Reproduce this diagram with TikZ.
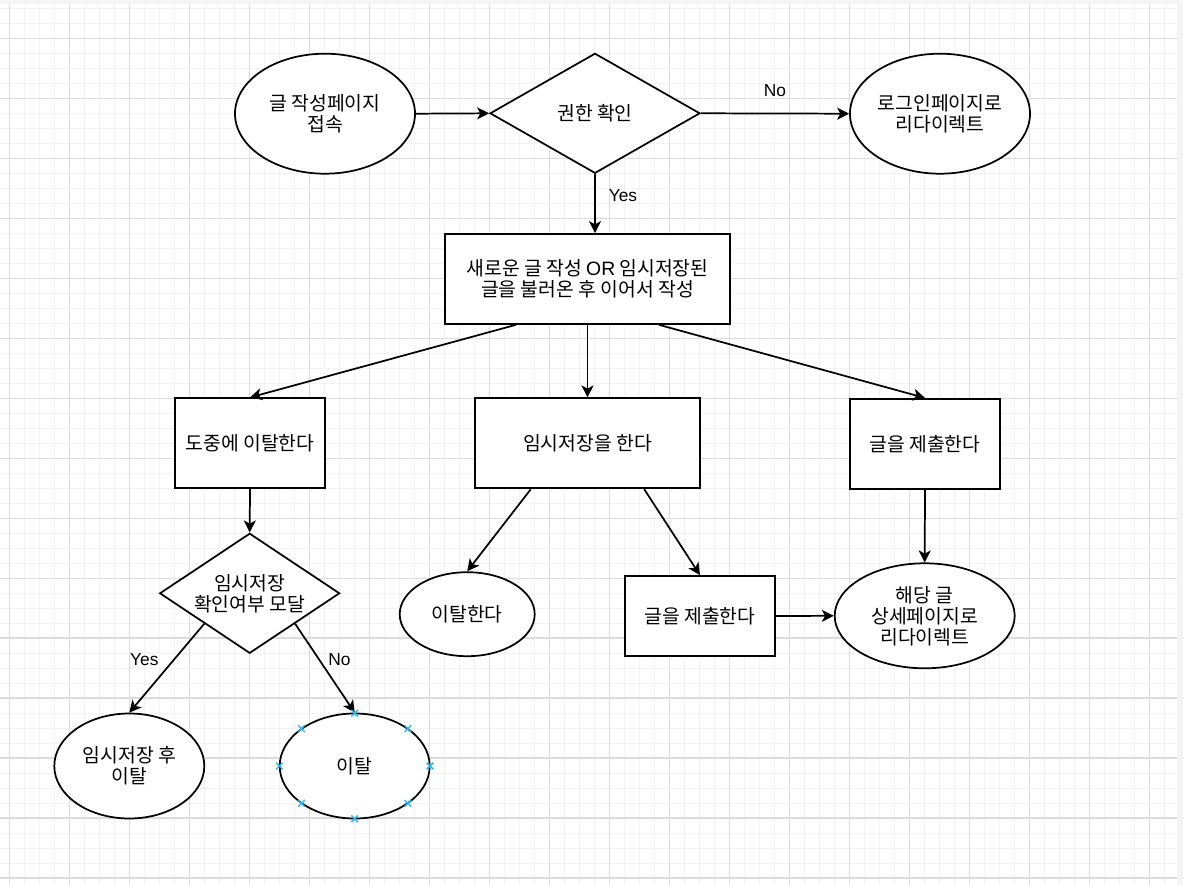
\documentclass[tikz,border=0pt]{standalone}
\usepackage{fontspec}
\setmainfont{Liberation Sans}
\newfontfamily\kr{Noto Sans CJK KR}
\usetikzlibrary{shapes.geometric,arrows.meta,calc}
\definecolor{gmaj}{HTML}{DCDCDC}
\definecolor{gmin}{HTML}{F2F2F2}
\definecolor{strip}{HTML}{F4F4F4}
\definecolor{selblue}{HTML}{29B6F2}
\begin{document}
\begin{tikzpicture}[x=0.75pt,y=-0.75pt,
  shapebase/.style={draw=black, line width=1.3pt, fill=white, inner sep=0pt, align=center,
    font=\kr\fontsize{14.5}{15.75}\selectfont},
  oval/.style={shapebase, ellipse, inner sep=-14pt},
  boxnode/.style={shapebase, rectangle},
  decision/.style={shapebase, diamond, inner sep=-16pt},
  conn/.style={draw=black, line width=1.3pt, -{Stealth[length=9pt,width=9pt,inset=2.4pt]}},
  lbl/.style={font=\fontsize{13}{15}\selectfont, inner sep=0pt},
  selmark/.style={draw=selblue, line width=1.1pt},
  minorgrid/.style={draw=gmin, line width=0.75pt},
  majorgrid/.style={draw=gmaj, line width=0.75pt},
]
\useasboundingbox (0,0) rectangle (1183,885);
% background and grid
\fill[white] (0,0) rectangle (1183,885);
\foreach \x in {9.3,24.3,...,1176} \draw[minorgrid] (\x,4) -- (\x,885);
\foreach \y in {8.3,23.3,...,885} \draw[minorgrid] (0,\y) -- (1177,\y);
\foreach \x in {9.3,69.3,...,1176} \draw[majorgrid] (\x,4) -- (\x,885);
\foreach \y in {38.3,98.3,...,600} \draw[majorgrid] (0,\y) -- (1177,\y);
\foreach \y in {638.3,698.3,...,885} \draw[majorgrid, line width=1.5pt] (0,\y) -- (1177,\y);
\fill[strip] (0,0) rectangle (1183,4);
\fill[strip] (1177,0) rectangle (1183,885);

% nodes
\node[oval, minimum width=135pt, minimum height=90pt] (start) at (325,113.7) {글 작성페이지\\접속};
\node[decision, minimum width=157.5pt, minimum height=90pt] (auth) at (595,113.3) {권한 확인};
\node[oval, minimum width=135pt, minimum height=90pt] (login) at (940,113.7) {로그인페이지로\\리다이렉트};
\node[boxnode, minimum width=213.75pt, minimum height=67.5pt] (write) at (587.5,279) {새로운 글 작성 {\normalfont OR} 임시저장된\\글을 불러온 후 이어서 작성};
\node[boxnode, minimum width=112.5pt, minimum height=67.5pt] (quit) at (250,443.3) {도중에 이탈한다};
\node[boxnode, minimum width=168.75pt, minimum height=67.5pt] (temp) at (587.5,443.3) {임시저장을 한다};
\node[boxnode, minimum width=112.5pt, minimum height=67.5pt] (submitA) at (925,443.8) {글을 제출한다};
\node[decision, minimum width=135pt, minimum height=90pt] (modal) at (249.7,593.3) {임시저장\\확인여부 모달};
\node[oval, minimum width=101.25pt, minimum height=63pt] (leaveA) at (467.2,614.2) {이탈한다};
\node[boxnode, minimum width=112.5pt, minimum height=60pt] (submitB) at (700,616) {글을 제출한다};
\node[oval, minimum width=135pt, minimum height=78.75pt] (detail) at (924.7,615.8) {해당 글\\상세페이지로\\리다이렉트};
\node[oval, minimum width=112.5pt, minimum height=78.75pt] (saveQuit) at (129.3,766) {임시저장 후\\이탈};
\node[oval, minimum width=112.5pt, minimum height=78.75pt] (quitB) at (354.7,766) {이탈};

% connectors
\draw[conn] (start.east) -- (auth.west);
\draw[conn] (auth.east) -- (login.west) node[lbl, pos=0.5, yshift=17.25pt] {No};
\draw[conn] (auth.south) -- (auth.south |- write.north) node[lbl, pos=0.36, xshift=21pt] {Yes};
\draw[conn] ($(write.south west)!0.25!(write.south east)$) -- (quit.north);
\draw[conn] (write.south) -- (temp.north);
\draw[conn] ($(write.south west)!0.75!(write.south east)$) -- (submitA.north);
\draw[conn] (quit.south) -- (modal.north);
\draw[conn] ($(temp.south west)!0.25!(temp.south east)$) -- (leaveA.north);
\draw[conn] ($(temp.south west)!0.75!(temp.south east)$) -- (submitB.north);
\draw[conn] (submitA.south) -- (detail.north);
\draw[conn] (submitB.east) -- (detail.west);
\draw[conn] ($(modal.west)!0.5!(modal.south)$) -- (saveQuit.north) node[lbl, pos=0.4, xshift=-22.5pt] {Yes};
\draw[conn] ($(modal.east)!0.5!(modal.south)$) -- (quitB.north) node[lbl, pos=0.4, xshift=15.4pt] {No};

% selection markers
\foreach \dx/\dy in {0/-52.8, 0/52.8, -75.3/0, 75.3/0, 53.2/-37.3, -53.2/-37.3, 53.2/37.3, -53.2/37.3}
  \draw[selmark] ($(quitB.center)+(\dx,\dy)$) ++(-3.3,-3.3) -- ++(6.6,6.6) ++(-6.6,0) -- ++(6.6,-6.6);
\end{tikzpicture}
\end{document}
